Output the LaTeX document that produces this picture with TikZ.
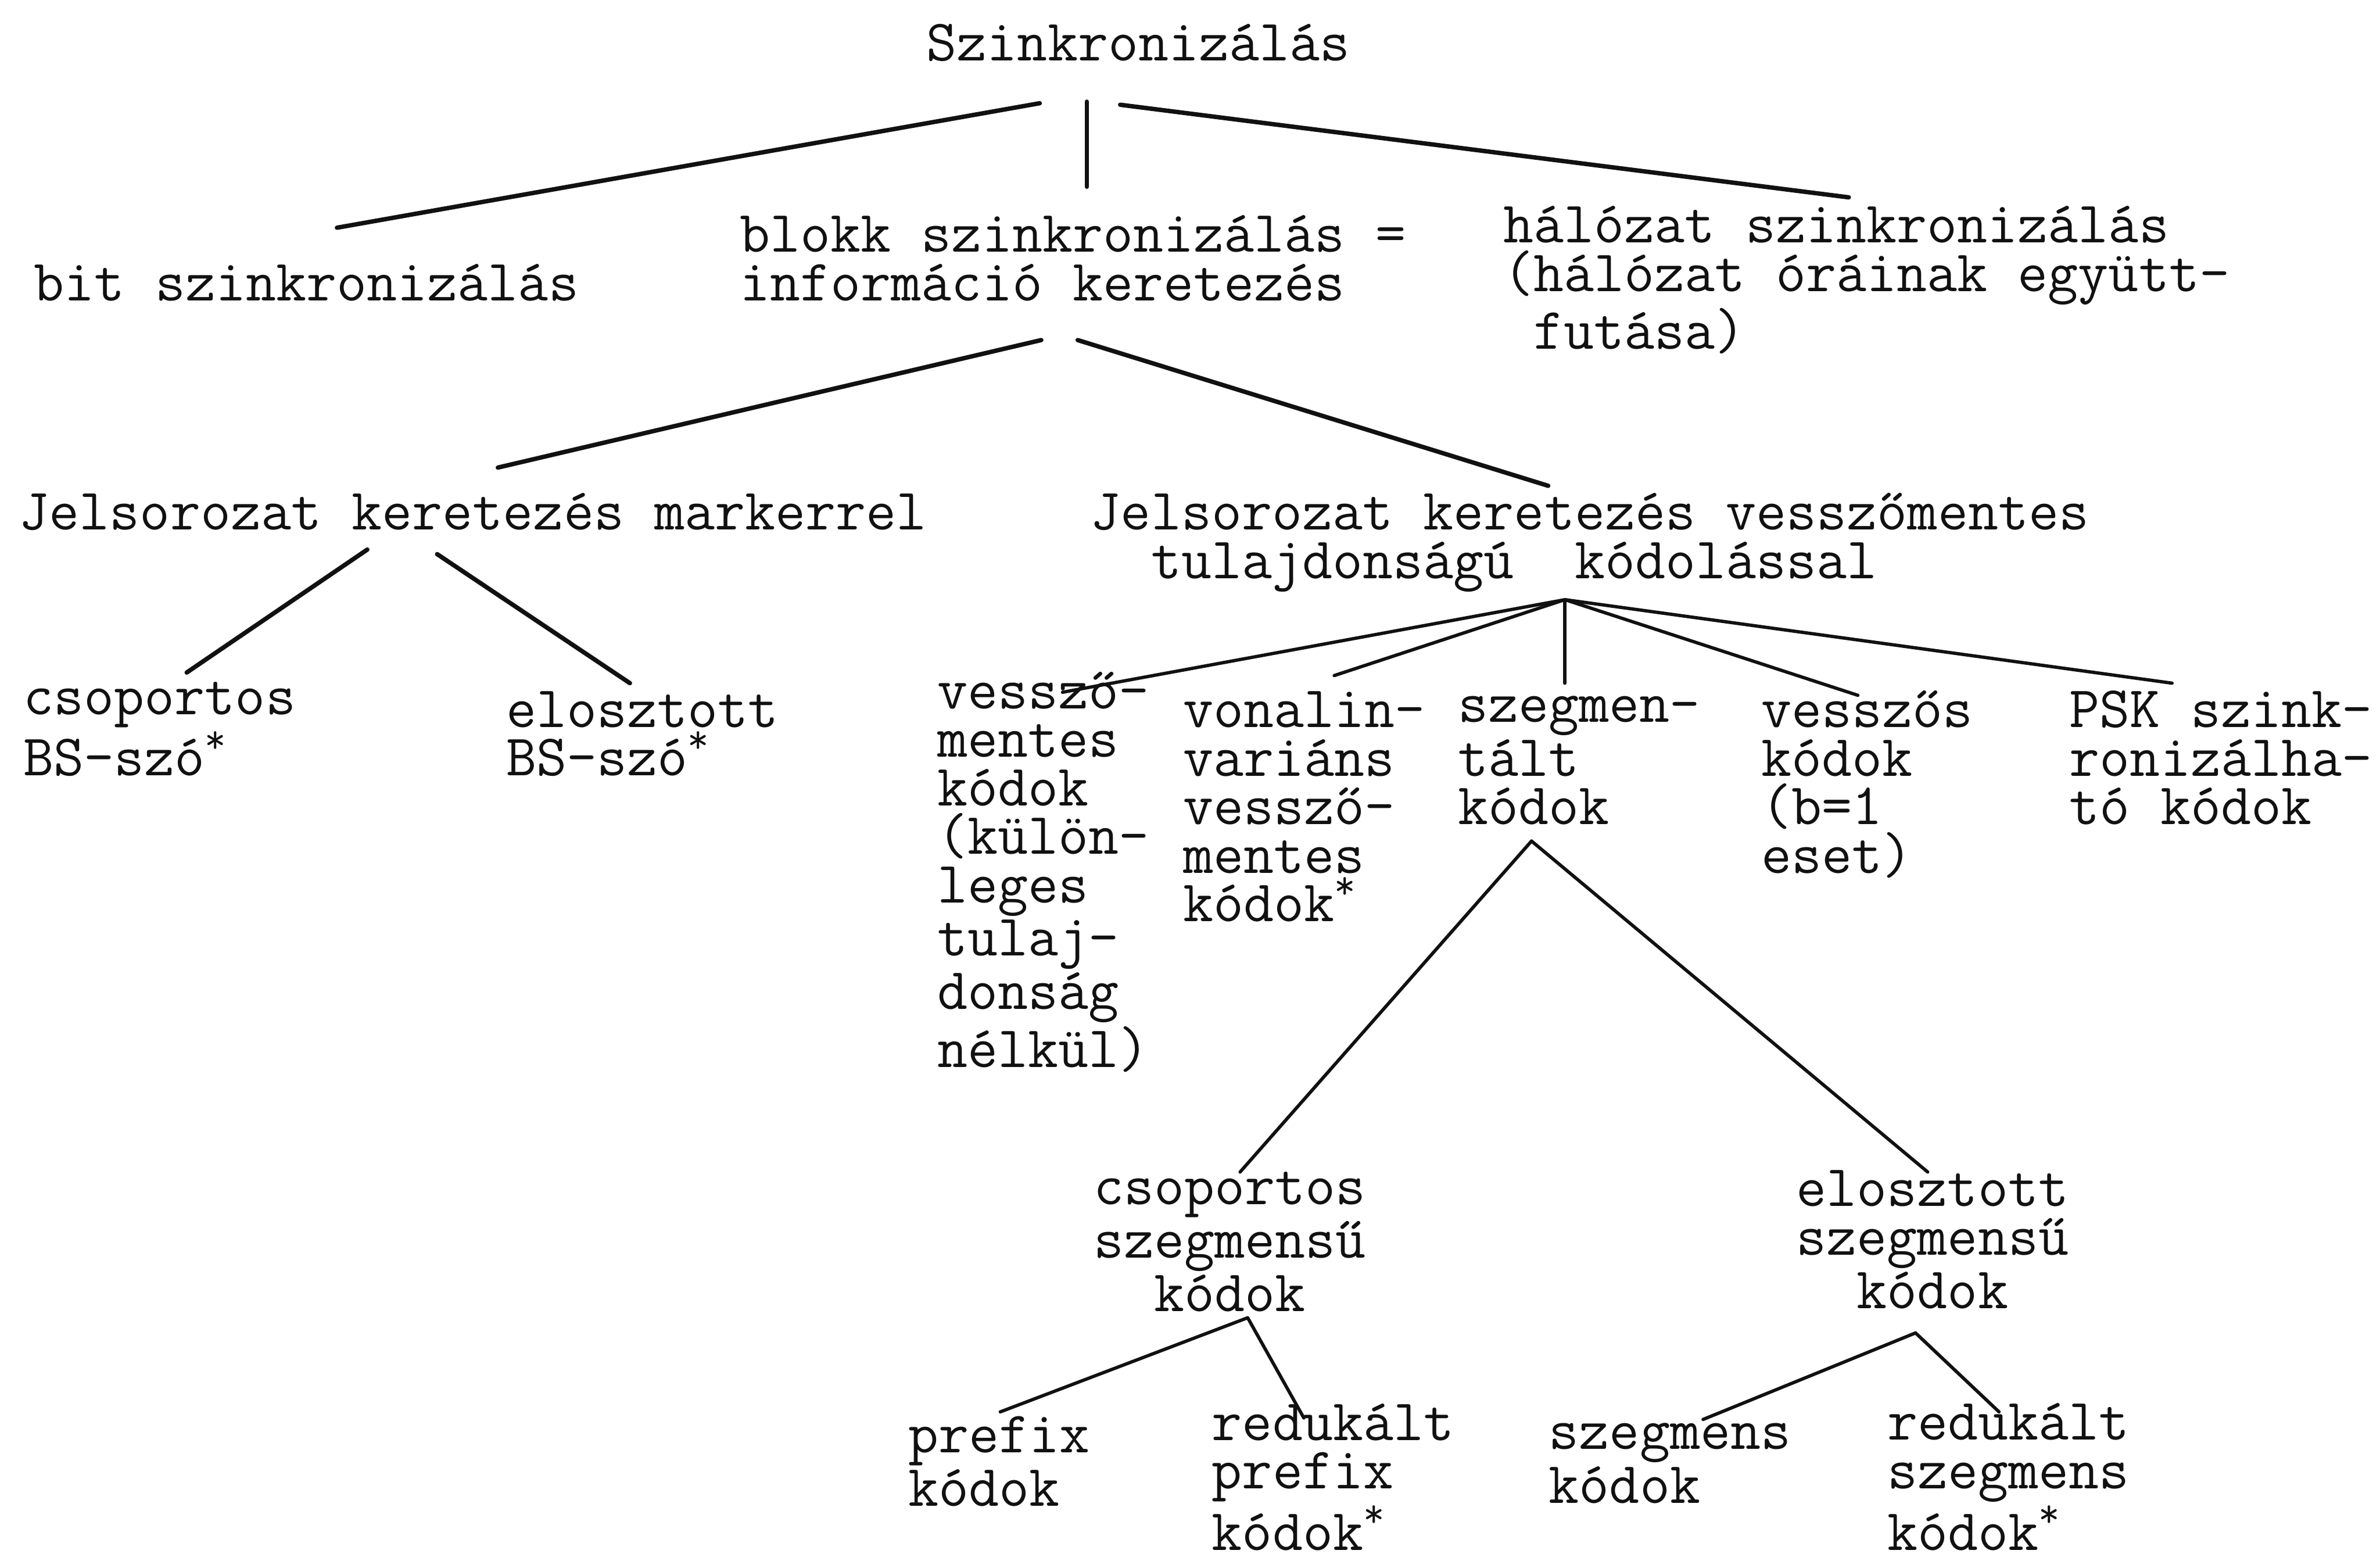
\documentclass[tikz,border=0pt]{standalone}
\usepackage{fontspec}
\usepackage{tikz}
\usetikzlibrary{positioning}
\definecolor{TypeInk}{HTML}{111111}

\begin{document}
\begin{tikzpicture}[x=0.014531cm, y=-0.014531cm,
    typed/.style={anchor=base west, inner sep=0pt, align=left, text=TypeInk,
      font=\ttfamily\fontsize{16}{13.2}\selectfont},
    branch/.style={TypeInk, line width=1.2pt, line cap=round},
    twig/.style={TypeInk, line width=0.9pt, line cap=round}]
  \useasboundingbox (0,0) rectangle (1568,1028);
  % Root and first level (placed at the baseline of the last line)
  \node[typed] (szink) at (610,40) {Szinkronizálás};
  \node[typed] (bit) at (22,198) {bit szinkronizálás};
  \node[typed] (blokk) at (487,198) {blokk szinkronizálás =\\információ keretezés};
  \node[typed] (halozat) at (990,230) {hálózat szinkronizálás\\(hálózat óráinak együtt-\\\phantom{x}futása)};
  % Framing
  \node[typed] (marker) at (12,349) {Jelsorozat keretezés markerrel};
  \node[typed] (vmentes) at (718,381) {Jelsorozat keretezés vesszőmentes\\\phantom{xx}tulajdonságú~~kódolással};
  \node[typed] (csopbs) at (15,511) {csoportos\\BS-szó\textsuperscript{*}};
  \node[typed] (elosbs) at (333,511) {elosztott\\BS-szó\textsuperscript{*}};
  % Code families
  \node[typed] (vmkod) at (617,703) {vessző-\\mentes\\kódok\\(külön-\\leges\\tulaj-\\donság\\nélkül)};
  \node[typed] (vonal) at (779,607) {vonalin-\\variáns\\vessző-\\mentes\\kódok\textsuperscript{*}};
  \node[typed] (szegm) at (960,543) {szegmen-\\tált\\kódok};
  \node[typed] (vesszos) at (1160,575) {vesszős\\kódok\\(b=1\\eset)};
  \node[typed] (psk) at (1363,543) {PSK szink-\\ronizálha-\\tó kódok};
  % Segmented codes
  \node[typed] (csopsz) at (720,864) {csoportos\\szegmensű\\\phantom{xx}kódok};
  \node[typed] (elossz) at (1183,862) {elosztott\\szegmensű\\\phantom{xx}kódok};
  \node[typed] (prefix) at (598,992) {prefix\\kódok};
  \node[typed] (redpref) at (798,1021) {redukált\\prefix\\kódok\textsuperscript{*}};
  \node[typed] (szegmens) at (1020,990) {szegmens\\kódok};
  \node[typed] (redszeg) at (1243,1021) {redukált\\szegmens\\kódok\textsuperscript{*}};

  % Branch ends
  \coordinate (szink-l) at (685,68);
  \coordinate (szink-m) at (716,67);
  \coordinate (szink-r) at (738,69);
  \coordinate (bit-t) at (222,150);
  \coordinate (blokk-t) at (716,123);
  \coordinate (halozat-t) at (1218,130);
  \coordinate (blokk-l) at (686,224);
  \coordinate (blokk-r) at (710,224);
  \coordinate (marker-t) at (328,308);
  \coordinate (vmentes-t) at (1020,320);
  \coordinate (marker-l) at (242,362);
  \coordinate (marker-r) at (288,365);
  \coordinate (csopbs-t) at (123,443);
  \coordinate (elosbs-t) at (415,450);
  \coordinate (vmentes-b) at (1031,395);
  \coordinate (vmkod-t) at (700,456);
  \coordinate (vonal-t) at (879,445);
  \coordinate (szegm-t) at (1031,450);
  \coordinate (vesszos-t) at (1224,458);
  \coordinate (psk-t) at (1431,450);
  \coordinate (szegm-b) at (1009,554);
  \coordinate (csopsz-t) at (817,772);
  \coordinate (elossz-t) at (1270,772);
  \coordinate (csopsz-b) at (822,868);
  \coordinate (prefix-t) at (659,930);
  \coordinate (redpref-t) at (859,934);
  \coordinate (elossz-b) at (1262,878);
  \coordinate (szegmens-t) at (1122,935);
  \coordinate (redszeg-t) at (1317,930);

  % Connectors
  \draw[branch] (szink-l) -- (bit-t);
  \draw[branch] (szink-m) -- (blokk-t);
  \draw[branch] (szink-r) -- (halozat-t);
  \draw[branch] (blokk-l) -- (marker-t);
  \draw[branch] (blokk-r) -- (vmentes-t);
  \draw[branch] (marker-l) -- (csopbs-t);
  \draw[branch] (marker-r) -- (elosbs-t);
  \foreach \kid in {vmkod,vonal,szegm,vesszos,psk}
    \draw[twig] (vmentes-b) -- (\kid-t);
  \draw[twig] (szegm-b) -- (csopsz-t);
  \draw[twig] (szegm-b) -- (elossz-t);
  \draw[twig] (csopsz-b) -- (prefix-t);
  \draw[twig] (csopsz-b) -- (redpref-t);
  \draw[twig] (elossz-b) -- (szegmens-t);
  \draw[twig] (elossz-b) -- (redszeg-t);
\end{tikzpicture}
\end{document}
